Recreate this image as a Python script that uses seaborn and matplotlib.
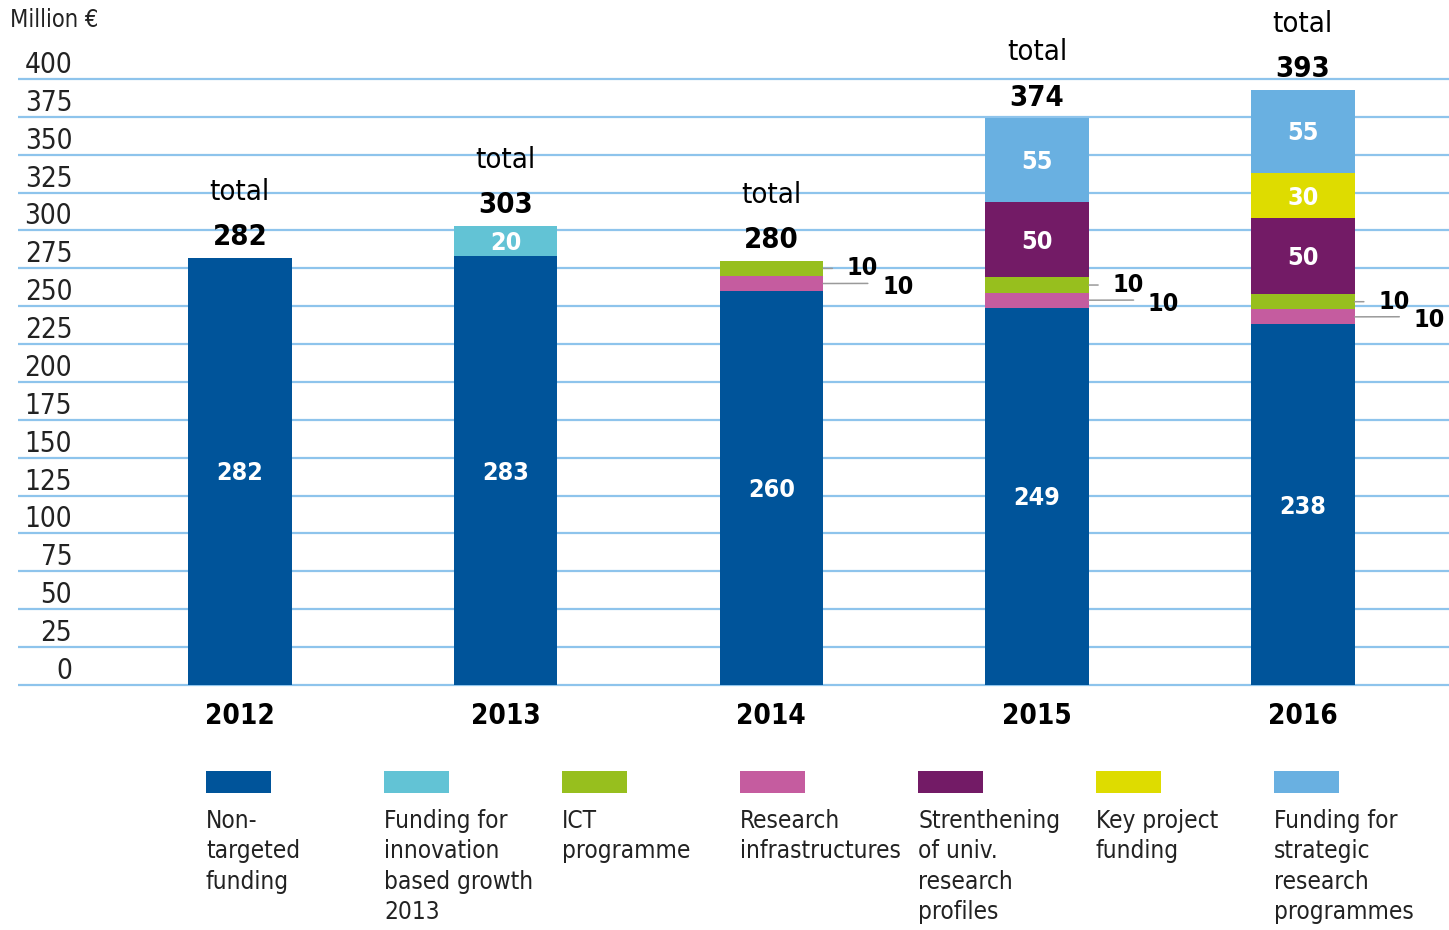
import numpy as np
import pandas as pd
from matplotlib import pyplot as plt
from matplotlib.patches import Rectangle
import seaborn as sns

years = ['2012', '2013', '2014', '2015', '2016']
non_targeted = [282, 283, 260, 249, 238]
innovation_growth = [0, 20, 0, 0, 0]
research_infra = [0, 0, 10, 10, 10]
ict_programme = [0, 0, 10, 10, 10]
univ_profiles = [0, 0, 0, 50, 50]
key_project = [0, 0, 0, 0, 30]
strategic = [0, 0, 0, 55, 55]
y_ticks = list(range(0, 401, 25))

# stacking order bottom -> top
stack = [
    ('non', non_targeted, '#00549a'),
    ('innov', innovation_growth, '#62c3d5'),
    ('infra', research_infra, '#c55c9f'),
    ('ict', ict_programme, '#97bf1e'),
    ('univ', univ_profiles, '#731b66'),
    ('key', key_project, '#dedc00'),
    ('strat', strategic, '#69b0e1'),
]

# legend order
legend_items = [
    ('Non-\ntargeted\nfunding', '#00549a'),
    ('Funding for\ninnovation\nbased growth\n2013', '#62c3d5'),
    ('ICT\nprogramme', '#97bf1e'),
    ('Research\ninfrastructures', '#c55c9f'),
    ('Strenthening\nof univ.\nresearch\nprofiles', '#731b66'),
    ('Key project\nfunding', '#dedc00'),
    ('Funding for\nstrategic\nresearch\nprogrammes', '#69b0e1'),
]

sns.set_style('white')
plt.rcParams['font.family'] = ['Liberation Sans Narrow', 'DejaVu Sans Condensed', 'DejaVu Sans']
plt.rcParams['font.stretch'] = 'condensed'

fig = plt.figure(figsize=(14.49, 9.30), dpi=100)
ax = fig.add_axes([0.0124, 0.2602, 0.9876, 0.6630])

bar_w = 0.39
bottom = np.zeros(len(years))
for name, vals, col in stack:
    sns.barplot(x=years, y=vals, bottom=bottom, color=col, saturation=1,
                width=bar_w, errorbar=None, linewidth=0, ax=ax)
    for i, v in enumerate(vals):
        if v >= 20:
            ax.annotate(str(v), xy=(i, bottom[i] + v / 2), xytext=(0, -1.5),
                        textcoords='offset points', ha='center', va='center',
                        color='white', fontsize=18, fontweight='bold')
    bottom = bottom + np.array(vals)

# small segments labelled outside with leader lines
for i in range(len(years)):
    if research_infra[i]:
        y = non_targeted[i] + research_infra[i] / 2
        ax.annotate(str(research_infra[i]), xy=(i + bar_w / 2, y),
                    xytext=(42.5, -2.5), textcoords='offset points',
                    ha='left', va='center', fontsize=18, fontweight='bold', color='black',
                    arrowprops=dict(arrowstyle='-', color='#9a9a9a', lw=1.1,
                                    shrinkA=8, shrinkB=0, relpos=(0, 0.65)))
    if ict_programme[i]:
        y = non_targeted[i] + research_infra[i] + ict_programme[i] / 2
        ax.annotate(str(ict_programme[i]), xy=(i + bar_w / 2, y),
                    xytext=(17, 0), textcoords='offset points',
                    ha='left', va='center', fontsize=18, fontweight='bold', color='black',
                    arrowprops=dict(arrowstyle='-', color='#9a9a9a', lw=1.1,
                                    shrinkA=8, shrinkB=0, relpos=(0, 0.5)))

# totals above the bars
for i, tot in enumerate(bottom):
    ax.annotate(f'{int(tot)}', xy=(i, tot), xytext=(0, 15),
                textcoords='offset points', ha='center', va='center',
                fontsize=21, fontweight='bold', color='black')
    ax.annotate('total', xy=(i, tot), xytext=(0, 47.5),
                textcoords='offset points', ha='center', va='center',
                fontsize=21, color='black')

ax.set_xlim(-0.835, 4.55)
ax.set_ylim(-2, 405)
ax.set_yticks(y_ticks)
ax.set_yticklabels([str(t) for t in y_ticks])
for lab in ax.get_yticklabels():
    lab.set_verticalalignment('bottom')
ax.tick_params(axis='y', length=0, pad=-39, labelsize=20, labelcolor='#222222')
ax.tick_params(axis='x', length=0, pad=10, labelsize=20, labelcolor='black')
for lab in ax.get_xticklabels():
    lab.set_fontweight('bold')
ax.grid(axis='y', color='#8ec4ec', lw=1.6)
ax.grid(axis='x', visible=False)
ax.set_axisbelow(True)
for s in ax.spines.values():
    s.set_visible(False)
ax.set_xlabel('')
ax.set_ylabel('')

fig.text(0.007, 1 - 20 / 930, 'Million €', ha='left', va='center',
         fontsize=17, color='#222222')

# legend row: swatch on top, text below
for k, (lab, col) in enumerate(legend_items):
    x0 = (206 + 178 * k) / 1449
    fig.add_artist(Rectangle((x0, 1 - 793 / 930), 65 / 1449, 22 / 930,
                             transform=fig.transFigure, color=col, lw=0))
    fig.text(x0, 1 - 809 / 930, lab, ha='left', va='top', fontsize=17.5,
             linespacing=1.33, color='#222222')

plt.savefig('out.png', dpi=100)
